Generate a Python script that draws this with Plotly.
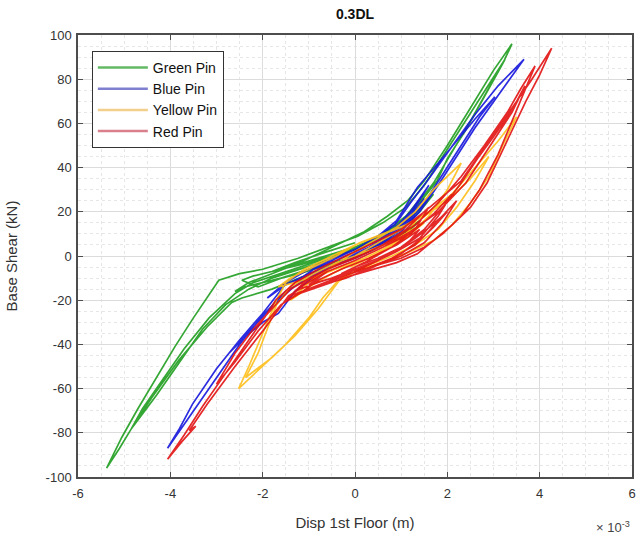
import plotly.graph_objects as go

# Displacement in units of 1e-3 m, base shear in kN
green = [
    (0.0, 2), (0.5, 8), (1.0, 14), (1.4, 21), (1.7, 28), (1.4, 20), (1.0, 12), (0.5, 5), (0.0, 0),
    (-0.6, -4), (-1.2, -8), (-1.8, -11), (-2.4, -14), (-2.6, -16), (-2.3, -12), (-1.8, -8), (-1.2, -3),
    (-0.5, 4), (0.2, 11), (0.7, 18), (1.14, 25), (1.5, 34), (2.0, 50), (2.5, 67), (3.0, 84), (3.4, 96),
    (3.2, 87), (2.8, 72), (2.4, 57), (2.0, 44), (1.78, 34), (1.4, 24), (1.0, 16), (0.5, 9), (0.0, 3),
    (-0.6, -2), (-1.2, -6), (-1.8, -10), (-2.3, -15), (-2.8, -22), (-3.3, -33), (-3.8, -48), (-4.3, -63),
    (-4.84, -78), (-5.1, -87), (-5.38, -96), (-5.05, -82), (-4.7, -69), (-4.3, -55), (-3.9, -41),
    (-3.5, -28), (-3.2, -19), (-2.95, -11), (-2.5, -8), (-2.0, -6), (-1.23, -1), (-0.6, 4), (0.06, 9),
    (0.6, 15), (1.1, 22), (1.5, 32), (1.9, 45), (2.3, 58), (2.7, 71), (3.1, 84), (3.25, 89), (2.9, 76),
    (2.5, 61), (2.1, 47), (1.7, 33), (1.3, 22), (0.9, 14), (0.4, 7), (-0.2, 2), (-0.9, -3), (-1.6, -8),
    (-2.2, -12), (-2.6, -17), (-3.16, -28), (-3.7, -42), (-4.2, -57), (-4.6, -69), (-4.84, -78),
    (-4.4, -64), (-3.81, -47), (-3.2, -32), (-2.67, -21), (-2.45, -19), (-1.8, -15), (-1.2, -10),
    (-0.6, -5), (0.0, 0), (0.5, 5), (1.0, 10), (1.4, 16), (1.2, 12), (0.7, 6), (0.2, 1), (-0.4, -3),
    (-1.0, -6), (-1.6, -10), (-2.1, -14), (-2.45, -11), (-2.2, -9), (-1.6, -6), (-0.8, -1), (0.0, 4),
    (0.6, 10), (1.1, 18), (1.5, 28), (1.2, 18), (0.7, 10), (0.2, 5), (-0.5, 0), (-1.2, -4), (-1.8, -7),
    (-1.3, -3), (-0.6, 2), (0.0, 6),
]

blue = [
    (0.0, 0), (0.5, 6), (0.9, 13), (1.3, 22), (1.0, 14), (0.5, 6), (0.0, 0), (-0.5, -4), (-1.0, -8),
    (-1.5, -13), (-1.9, -19), (-1.5, -12), (-1.0, -6), (-0.5, -1), (0.0, 3), (0.5, 9), (0.86, 14),
    (1.2, 24), (1.6, 35), (2.15, 51), (2.6, 64), (3.1, 77), (3.66, 89), (3.35, 80), (3.0, 70), (2.6, 58),
    (2.2, 45), (1.8, 32), (1.4, 20), (1.0, 11), (0.5, 4), (0.0, -1), (-0.5, -5), (-1.0, -10), (-1.5, -16),
    (-2.0, -27), (-2.5, -40), (-3.0, -55), (-3.5, -70), (-4.06, -87), (-3.8, -78), (-3.52, -67),
    (-3.0, -51), (-2.5, -38), (-2.0, -26), (-1.44, -11), (-1.0, -6), (-0.5, -2), (0.0, 3), (0.5, 9),
    (0.9, 16), (1.35, 31), (1.8, 42), (2.2, 52), (2.6, 62), (3.03, 72), (2.7, 63), (2.3, 50), (1.9, 37),
    (1.5, 24), (1.1, 14), (0.6, 6), (0.0, 0), (-0.6, -5), (-1.1, -10), (-1.66, -20), (-2.2, -32),
    (-2.73, -44), (-2.4, -37), (-2.0, -30), (-1.66, -26), (-1.3, -16), (-0.8, -8), (-0.3, -3), (0.2, 2),
    (0.7, 8), (1.1, 15), (1.5, 26), (1.2, 18), (0.8, 10), (0.3, 3), (-0.2, -1), (0.3, 4), (0.8, 11),
    (1.2, 20), (1.6, 32), (1.3, 22), (0.9, 12), (0.4, 4), (-0.2, -2), (-0.8, -7), (-1.3, -12),
    (-0.9, -6), (-0.4, -2), (0.2, 4), (0.7, 10),
]

yellow = [
    (0.0, 0), (0.5, 4), (1.0, 9), (1.5, 15), (1.2, 10), (0.7, 4), (0.2, -1), (-0.3, -5), (-0.8, -9),
    (-1.3, -12), (-1.66, -14), (-1.4, -10), (-0.9, -5), (-0.4, 0), (0.1, 6), (0.6, 10), (1.1, 14),
    (1.6, 20), (2.1, 28), (2.6, 40), (3.1, 52), (3.5, 63), (3.2, 50), (2.9, 36), (2.5, 24), (2.1, 14),
    (1.7, 7), (1.2, 2), (0.6, -3), (0.0, -7), (-0.4, -12), (-0.7, -19), (-1.0, -28), (-1.5, -40),
    (-2.0, -50), (-2.52, -60), (-2.3, -50), (-2.1, -40), (-1.87, -29), (-1.7, -20), (-1.5, -12),
    (-1.1, -6), (-0.6, -1), (0.0, 5), (0.5, 9), (1.0, 13), (1.5, 18), (2.0, 25), (2.5, 35), (2.9, 45),
    (2.6, 34), (2.2, 22), (1.8, 12), (1.3, 5), (0.8, 0), (0.2, -5), (-0.3, -10), (-0.8, -24),
    (-1.3, -36), (-1.8, -46), (-2.37, -55), (-2.1, -44), (-1.9, -33), (-1.7, -22), (-1.4, -14),
    (-0.9, -8), (-0.4, -3), (0.0, 0), (0.5, 6), (1.0, 12), (1.4, 18), (1.1, 10), (0.6, 3), (0.0, -3),
    (-0.5, -8), (-1.0, -14), (-1.4, -20), (-1.0, -12), (-0.5, -5), (0.0, 2), (0.5, 8), (0.9, 13),
    (1.3, 20), (1.7, 30), (2.3, 42), (2.0, 30), (1.6, 18), (1.1, 8), (0.5, 1), (-0.1, -5),
]

red = [
    (0.0, -5), (0.5, -1), (1.0, 4), (1.5, 11), (2.0, 20), (1.7, 13), (1.3, 5), (0.8, -1), (0.2, -6),
    (-0.4, -10), (-0.9, -14), (-1.4, -18), (-1.1, -13), (-0.6, -7), (0.0, -2), (0.6, 4), (1.2, 11),
    (1.8, 20), (2.4, 33), (3.0, 52), (3.4, 65), (3.68, 77), (3.4, 66), (3.0, 54), (2.65, 44), (2.3, 33),
    (1.9, 22), (1.5, 12), (1.0, 4), (0.4, -3), (-0.2, -8), (-0.8, -12), (-1.2, -15), (-1.44, -18),
    (-2.0, -34), (-2.6, -50), (-3.2, -67), (-3.59, -79), (-3.45, -77), (-3.75, -84), (-4.06, -92),
    (-3.7, -81), (-3.3, -68), (-2.8, -53), (-2.3, -38), (-1.9, -26), (-1.72, -20), (-1.3, -12),
    (-0.8, -6), (-0.2, 0), (0.4, 6), (1.0, 12), (1.5, 20), (1.9, 27), (2.3, 34), (2.8, 49), (3.3, 64),
    (3.8, 79), (4.26, 94), (4.0, 82), (3.7, 70), (3.3, 52), (2.86, 33), (2.5, 22), (2.1, 14), (1.7, 7),
    (1.35, 1), (0.9, -3), (0.4, -6), (-0.1, -9), (-0.37, -11), (-0.8, -14), (-1.2, -17), (-1.6, -22),
    (-2.1, -34), (-2.6, -48), (-3.0, -58), (-2.6, -44), (-2.2, -33), (-1.8, -24), (-1.4, -15),
    (-0.9, -9), (-0.4, -4), (0.2, 1), (0.8, 7), (1.3, 14), (1.8, 24), (2.3, 36), (2.8, 50), (3.3, 65),
    (3.6, 76), (3.9, 86), (3.5, 66), (3.1, 46), (2.7, 30), (2.3, 18), (1.9, 10), (1.5, 4), (1.0, -1),
    (0.5, -4), (0.0, -7), (0.5, -2), (1.0, 4), (1.5, 11), (1.9, 18), (1.5, 9), (1.0, 1), (0.4, -5),
    (-0.2, -10), (-0.7, -13), (-1.2, -17), (-0.8, -11), (-0.3, -6), (0.3, -1), (0.9, 5), (1.4, 12),
    (1.1, 5), (0.6, -1), (0.0, -6), (-0.5, -10), (-1.0, -13), (-0.6, -7), (0.0, -2), (0.6, 4),
    (1.2, 10), (1.7, 19), (2.1, 28), (1.8, 18), (1.4, 8), (0.9, 2), (0.3, -4), (0.8, 1), (1.3, 8),
    (1.8, 16), (2.2, 25), (1.9, 15), (1.5, 6), (1.0, 0), (0.5, -4), (-0.1, -8), (-0.6, -12),
    (-1.1, -16), (-1.5, -20), (-1.1, -12), (-0.6, -6), (0.0, -1), (0.6, 5), (1.1, 12), (1.6, 22),
    (1.3, 12), (0.8, 4), (0.2, -3), (-0.3, -8),
]

series_names = ["Green Pin", "Blue Pin", "Yellow Pin", "Red Pin"]
series_data = [green, blue, yellow, red]
line_colors = ["#1f9e1f", "#1515dd", "#ffbf1a", "#e31212"]
legend_colors = ["#63b863", "#7f7fcf", "#f3cf8c", "#d9808c"]

x_ticks = [-6, -4, -2, 0, 2, 4, 6]
y_ticks = [-100, -80, -60, -40, -20, 0, 20, 40, 60, 80, 100]

FONT = "Liberation Sans, Arial, sans-serif"
fig = go.Figure()

for name, pts, col in zip(series_names, series_data, line_colors):
    fig.add_trace(go.Scatter(
        x=[p[0] for p in pts], y=[p[1] for p in pts], mode="lines",
        line=dict(color=col, width=1.7), opacity=0.9, showlegend=False, name=name,
    ))

for i, (name, col) in enumerate(zip(series_names, legend_colors)):
    fig.add_trace(go.Scatter(
        x=[None], y=[None], mode="lines", line=dict(color=col, width=2.5),
        name=name, legendgroup=f"g{i}", showlegend=True,
    ))

axis_common = dict(
    showline=True, linecolor="#4d4d4d", linewidth=1.5, mirror="ticks",
    ticks="inside", ticklen=5, tickcolor="#4d4d4d",
    showgrid=True, gridcolor="#dcdcdc", gridwidth=1, zeroline=False,
    tickfont=dict(family=FONT, size=13, color="#333333"),
)

fig.update_layout(
    width=640, height=537,
    margin=dict(l=78, r=4, t=35, b=60),
    paper_bgcolor="white", plot_bgcolor="white",
    title=dict(text="<b>0.3DL</b>", x=0.5, xref="paper", xanchor="center",
               y=1 - 14 / 537, yanchor="middle",
               font=dict(family=FONT, size=14, color="#111111")),
    xaxis=dict(range=[-6, 6], tickvals=x_ticks, ticktext=[str(v) for v in x_ticks],
               ticklabelstandoff=4,
               minor=dict(dtick=0.5, tick0=0, showgrid=True, gridcolor="#e6e6e6",
                          griddash="dot", ticks=""),
               title=dict(text="Disp 1st Floor (m)", standoff=17,
                          font=dict(family=FONT, size=15, color="#333333")),
               **axis_common),
    yaxis=dict(range=[-100, 100], tickvals=y_ticks, ticktext=[str(v) for v in y_ticks],
               ticklabelstandoff=2,
               minor=dict(dtick=5, tick0=0, showgrid=True, gridcolor="#e6e6e6",
                          griddash="dot", ticks=""),
               title=dict(text="Base Shear (kN)", standoff=24,
                          font=dict(family=FONT, size=15, color="#333333")),
               **axis_common),
    legend=dict(x=0.025, y=0.964, xanchor="left", yanchor="top",
                bgcolor="white", bordercolor="#333333", borderwidth=1,
                font=dict(family=FONT, size=14, color="#111111"),
                tracegroupgap=0, itemwidth=50),
    annotations=[dict(text="× 10<sup>-3</sup>", xref="paper", yref="paper",
                      x=1.0, y=-0.09, xanchor="right", yanchor="top", showarrow=False,
                      font=dict(family=FONT, size=13, color="#444444"))],
)

fig.write_html("out.html")
